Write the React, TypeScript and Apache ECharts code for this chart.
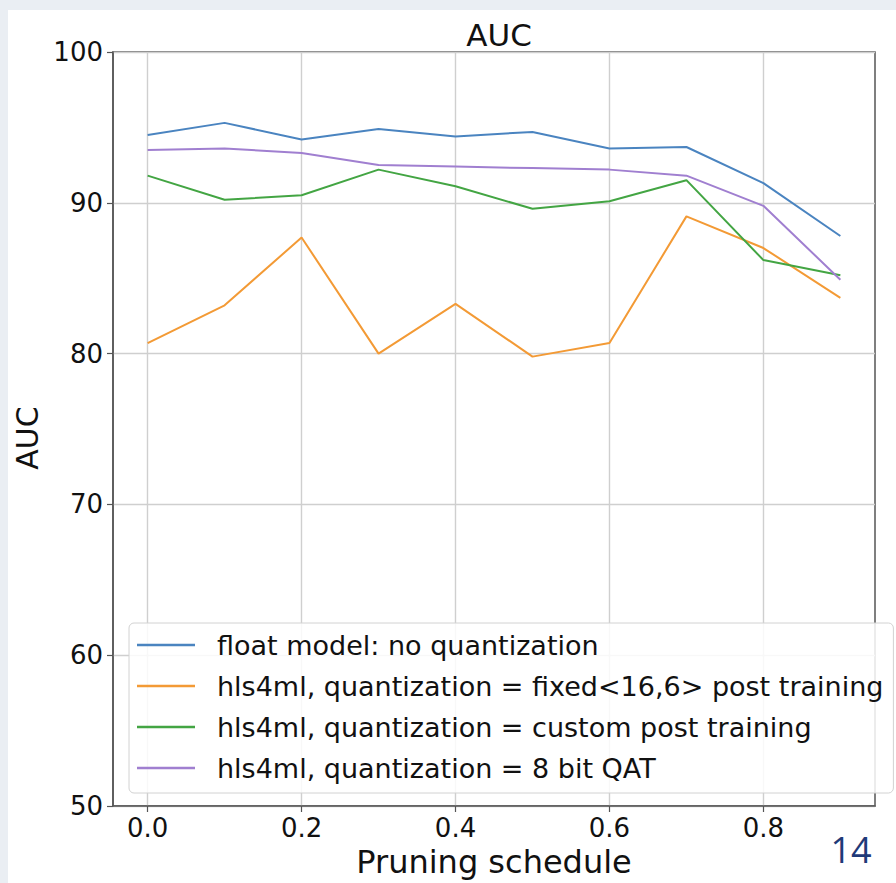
import React, { useEffect, useRef } from "react";
import * as echarts from "echarts";

const pruning = [0.0, 0.1, 0.2, 0.3, 0.4, 0.5, 0.6, 0.7, 0.8, 0.9];
const floatModel = [94.5, 95.3, 94.2, 94.9, 94.4, 94.7, 93.6, 93.7, 91.3, 87.8];
const fixedPost = [80.7, 83.2, 87.7, 80.0, 83.3, 79.8, 80.7, 89.1, 87.0, 83.7];
const customPost = [91.8, 90.2, 90.5, 92.2, 91.1, 89.6, 90.1, 91.5, 86.2, 85.2];
const qat8 = [93.5, 93.6, 93.3, 92.5, 92.4, 92.3, 92.2, 91.8, 89.8, 84.9];
const seriesNames = [
  "float model: no quantization",
  "hls4ml, quantization = fixed<16,6> post training",
  "hls4ml, quantization = custom post training",
  "hls4ml, quantization = 8 bit QAT",
];
const xTicks = [0.0, 0.2, 0.4, 0.6, 0.8];
const colors = ["#4a84c0", "#f39a35", "#43a543", "#a07fd0"];

export default function App() {
  const ref = useRef<HTMLDivElement>(null);
  useEffect(() => {
    if (!ref.current) return;
    const chart = echarts.init(ref.current, null, { renderer: "svg" });
    const font = "DejaVu Sans";
    const allData = [floatModel, fixedPost, customPost, qat8];
    chart.setOption({
      animation: false,
      backgroundColor: "#eaeef3",
      title: {
        text: "AUC",
        left: 494,
        top: 14,
        textAlign: "center",
        textStyle: { fontFamily: font, fontSize: 31, fontWeight: "normal", color: "#111" },
      },
      grid: {
        left: 113,
        top: 52,
        width: 762,
        height: 756,
        show: true,
        borderColor: "#555",
        borderWidth: 1.5,
        backgroundColor: "transparent",
      },
      xAxis: {
        type: "value",
        min: -0.045,
        max: 0.945,
        name: "Pruning schedule",
        nameLocation: "middle",
        nameGap: 40,
        nameTextStyle: { fontFamily: font, fontSize: 32, color: "#111" },
        axisLine: { show: true, onZero: false, lineStyle: { color: "#555", width: 1.5 } },
        axisTick: { show: true, length: 6, customValues: xTicks, lineStyle: { color: "#555", width: 1.2 } },
        axisLabel: {
          customValues: xTicks,
          formatter: (v: number) => v.toFixed(1),
          fontFamily: font,
          fontSize: 26,
          color: "#111",
          margin: 9,
        },
        splitLine: { show: true, lineStyle: { color: "#cfcfcf", width: 1.4 } },
      },
      yAxis: {
        type: "value",
        min: 50,
        max: 100,
        interval: 10,
        name: "AUC",
        nameLocation: "middle",
        nameGap: 68,
        nameTextStyle: { fontFamily: font, fontSize: 30, color: "#111", padding: [0, 18, 0, 0] },
        axisLine: { show: true, onZero: false, lineStyle: { color: "#555", width: 1.5 } },
        axisTick: { show: true, length: 6, lineStyle: { color: "#555", width: 1.2 } },
        axisLabel: { fontFamily: font, fontSize: 26, color: "#111", margin: 10 },
        splitLine: { show: true, lineStyle: { color: "#cfcfcf", width: 1.4 } },
      },
      legend: {
        orient: "vertical",
        left: 129,
        top: 623,
        icon: "rect",
        itemWidth: 58,
        itemHeight: 2.5,
        itemGap: 11,
        padding: [7, 10, 10, 8],
        backgroundColor: "rgba(255,255,255,0.85)",
        borderColor: "#d2d2d2",
        borderWidth: 1,
        borderRadius: 5,
        textStyle: {
          fontFamily: font,
          fontSize: 27,
          color: "#111",
          lineHeight: 30,
          padding: [0, 0, 0, 17],
        },
        data: seriesNames,
      },
      series: allData.map((d, i) => ({
        name: seriesNames[i],
        type: "line",
        data: d.map((v, j) => [pruning[j], v]),
        symbol: "none",
        lineStyle: { color: colors[i], width: 2 },
        itemStyle: { color: colors[i] },
        z: 2 + i,
      })),
      graphic: [
        {
          type: "rect",
          z: -100,
          silent: true,
          shape: { x: 8, y: 10, width: 888, height: 873 },
          style: { fill: "#ffffff" },
        },
        {
          type: "text",
          x: 851,
          y: 849,
          style: {
            text: "14",
            fill: "#1f3a78",
            font: "36px 'Open Sans'",
            textAlign: "center",
            textVerticalAlign: "middle",
          },
        },
      ],
    });
    return () => chart.dispose();
  }, []);
  return (
    <div
      ref={ref}
      style={{ position: "fixed", left: 0, top: 0, width: 896, height: 883 }}
    />
  );
}
